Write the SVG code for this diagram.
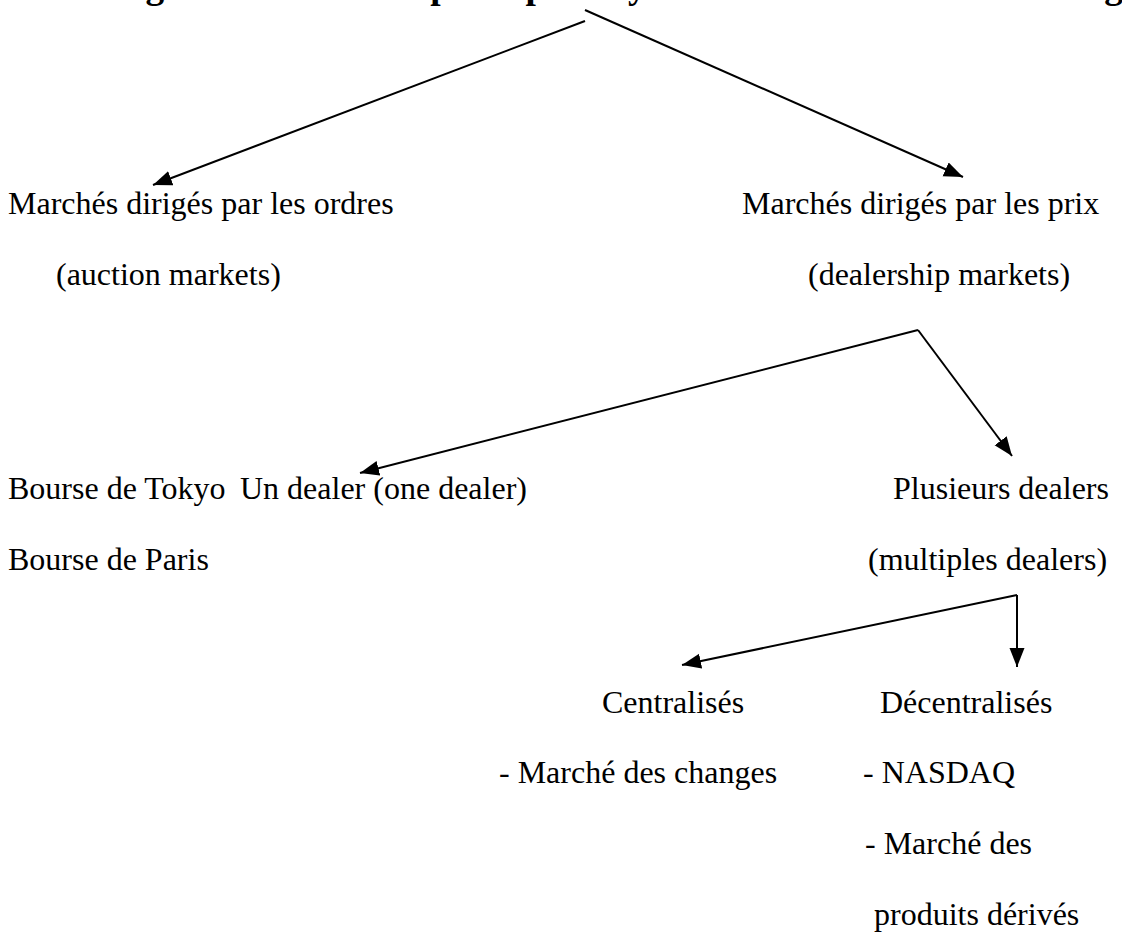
<svg xmlns="http://www.w3.org/2000/svg" width="1122" height="932" viewBox="0 0 1122 932">
<style>
  .t { font-family: "Liberation Serif", "Times New Roman", serif; font-size: 32px; fill: #000; }
  .title { font-family: "Liberation Serif", "Times New Roman", serif; font-size: 37.3px; font-weight: bold; fill: #000; }
  .c { stroke: #000; stroke-width: 2; fill: none; marker-end: url(#ah); }
</style>
<defs>
  <marker id="ah" markerUnits="userSpaceOnUse" markerWidth="20" markerHeight="16" refX="19" refY="7.5" orient="auto">
    <path d="M0,0 L19,7.5 L0,15 z" fill="#000"/>
  </marker>
</defs>
<rect width="1122" height="932" fill="#fff"/>
<g id="title">
  <text class="title" y="-2"><tspan x="100">Organisation</tspan><tspan x="369">des principaux systèmes de cotation</tspan><tspan x="981">de change</tspan></text>
</g>
<g id="connectors">
  <path class="c" d="M585,21 L153,185"/>
  <path class="c" d="M585,10 L963,177"/>
  <path class="c" d="M918,330 L360,473"/>
  <path class="c" d="M918,330 L1012,456"/>
  <path class="c" d="M1017,595 L682,665"/>
  <path class="c" d="M1017,595 L1017,667"/>
</g>
<g id="node-ordres">
  <text class="t" x="8" y="214">Marchés dirigés par les ordres</text>
  <text class="t" x="56" y="285">(auction markets)</text>
</g>
<g id="node-prix">
  <text class="t" x="742" y="214">Marchés dirigés par les prix</text>
  <text class="t" x="808" y="285">(dealership markets)</text>
</g>
<g id="node-bourses">
  <text class="t" x="8" y="499">Bourse de Tokyo</text>
  <text class="t" x="8" y="570">Bourse de Paris</text>
</g>
<g id="node-un-dealer">
  <text class="t" x="240" y="499">Un dealer (one dealer)</text>
</g>
<g id="node-plusieurs">
  <text class="t" x="893" y="499">Plusieurs dealers</text>
  <text class="t" x="868" y="570">(multiples dealers)</text>
</g>
<g id="node-centralises">
  <text class="t" x="602" y="713">Centralisés</text>
  <text class="t" x="499" y="783">- Marché des changes</text>
</g>
<g id="node-decentralises">
  <text class="t" x="880" y="713">Décentralisés</text>
  <text class="t" x="863" y="783">- NASDAQ</text>
  <text class="t" x="865" y="854">- Marché des</text>
  <text class="t" x="874" y="925">produits dérivés</text>
</g>
</svg>
